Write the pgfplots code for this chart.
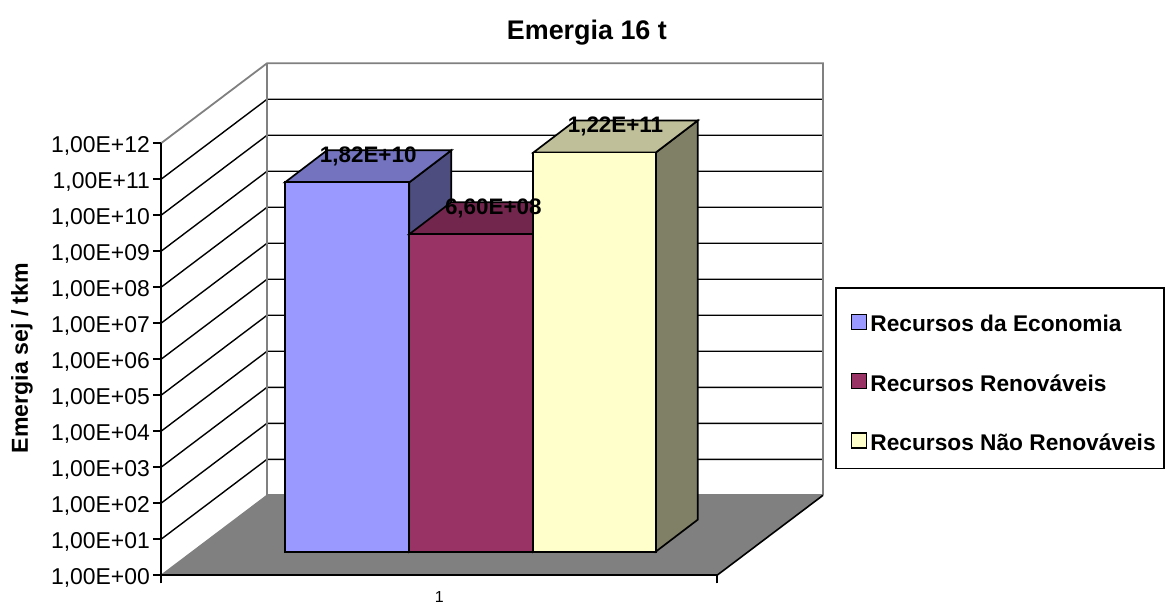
\documentclass[border=0pt]{standalone}
\usepackage{pgfplots}
\usepackage{fontspec}
\setmainfont{Liberation Sans}
\pgfplotsset{compat=1.18}
\definecolor{cA}{HTML}{9999FF}\definecolor{cAt}{HTML}{7373BF}\definecolor{cAs}{HTML}{4D4D80}
\definecolor{cB}{HTML}{993366}\definecolor{cBt}{HTML}{73264D}\definecolor{cBs}{HTML}{4D1A33}
\definecolor{cC}{HTML}{FFFFCC}\definecolor{cCt}{HTML}{BFBF99}\definecolor{cCs}{HTML}{808066}
\definecolor{wall}{HTML}{808080}
\newcommand{\lbl}{\fontsize{22.5}{27}\selectfont}
\begin{document}
\begin{tikzpicture}[line join=miter]
\useasboundingbox (-161bp,-28.7bp) rectangle (1007bp,575.3bp);
\begin{axis}[
  scale only axis, width=556bp, height=432bp,
  xmin=161, xmax=717, ymode=log, ymin=1, ymax=1e12,
  clip=false, axis on top=true,
  axis x line=bottom, axis y line=left,
  axis line style={-, black, line width=1.8bp},
  tick style={black, line width=1.6bp},
  tick align=outside, major tick length=8bp,
  yminorticks=false,
  ytick={1,1e1,1e2,1e3,1e4,1e5,1e6,1e7,1e8,1e9,1e10,1e11,1e12},
  yticklabels={{1,00E+00},{1,00E+01},{1,00E+02},{1,00E+03},{1,00E+04},{1,00E+05},{1,00E+06},{1,00E+07},{1,00E+08},{1,00E+09},{1,00E+10},{1,00E+11},{1,00E+12}},
  yticklabel style={font=\fontsize{23}{27}\selectfont, inner sep=0pt, xshift=-3bp, yshift=-3bp},
  xtick={161,717}, xticklabels={,},
  extra x ticks={439.3}, extra x tick labels={1},
  extra x tick style={major tick length=0pt, xticklabel style={font=\fontsize{16}{18}\selectfont, yshift=-13bp}},
  title={\textbf{Emergia 16 t}},
  title style={at={(0.766,1.243)}, anchor=center, font=\fontsize{27}{30}\selectfont},
  ylabel={\textbf{Emergia sej / tkm}},
  ylabel style={at={(-0.25,0.503)}, anchor=center, font=\fontsize{23.2}{27}\selectfont},
  legend cell align=left,
  legend image code/.code={\path (-10bp,0bp) (0bp,29.5bp); \draw[#1, line width=1.6bp] (0bp,2.5bp) rectangle (15bp,17.5bp);},
  legend style={at={(1.2122,0.6667)}, anchor=north west, draw=black, line width=1.6bp,
    inner xsep=5bp, inner ysep=13.5bp, font=\bfseries\fontsize{22.8}{27}\selectfont, row sep=24.5bp,
    /tikz/column 2/.style={column sep=0pt},
    nodes={inner sep=3bp, anchor=base west}},
]
% floor
\addplot[forget plot, fill=wall, draw=none] coordinates {(161,1)(717,1)(823,166.8)(267,166.8)} -- cycle;
% wall grid lines
\addplot[forget plot, black, line width=1.4bp] coordinates {(161,1e1)(267,1.668e3)(823,1.668e3)};
\addplot[forget plot, black, line width=1.4bp] coordinates {(161,1e2)(267,1.668e4)(823,1.668e4)};
\addplot[forget plot, black, line width=1.4bp] coordinates {(161,1e3)(267,1.668e5)(823,1.668e5)};
\addplot[forget plot, black, line width=1.4bp] coordinates {(161,1e4)(267,1.668e6)(823,1.668e6)};
\addplot[forget plot, black, line width=1.4bp] coordinates {(161,1e5)(267,1.668e7)(823,1.668e7)};
\addplot[forget plot, black, line width=1.4bp] coordinates {(161,1e6)(267,1.668e8)(823,1.668e8)};
\addplot[forget plot, black, line width=1.4bp] coordinates {(161,1e7)(267,1.668e9)(823,1.668e9)};
\addplot[forget plot, black, line width=1.4bp] coordinates {(161,1e8)(267,1.668e10)(823,1.668e10)};
\addplot[forget plot, black, line width=1.4bp] coordinates {(161,1e9)(267,1.668e11)(823,1.668e11)};
\addplot[forget plot, black, line width=1.4bp] coordinates {(161,1e10)(267,1.668e12)(823,1.668e12)};
\addplot[forget plot, black, line width=1.4bp] coordinates {(161,1e11)(267,1.668e13)(823,1.668e13)};
% wall outlines
\addplot[forget plot, wall, line width=1.8bp] coordinates {(161,1e12)(267,1.668e14)(823,1.668e14)(823,166.8)};
\addplot[forget plot, wall, line width=1.8bp] coordinates {(267,1.668e14)(267,166.8)(823,166.8)};
\addplot[forget plot, wall, line width=1.2bp] coordinates {(161,1)(267,166.8)};
\addplot[forget plot, black, line width=1.6bp] coordinates {(717,1)(823,166.8)};
% bars: true values, raised onto the floor by yshift
\addplot[forget plot, yshift=23.6bp, fill=cAs, draw=black, line width=1.7bp] coordinates {(409.3,1)(451.3,7.74)(451.3,1.409e11)(409.3,1.82e10)} -- cycle;
\addplot[forget plot, yshift=23.6bp, fill=cAt, draw=black, line width=1.7bp] coordinates {(285,1.82e10)(409.3,1.82e10)(451.3,1.409e11)(327,1.409e11)} -- cycle;
\addplot[forget plot, yshift=23.6bp, fill=cA, draw=black, line width=1.7bp] coordinates {(285,1)(285,1.82e10)(409.3,1.82e10)(409.3,1)} -- cycle;
\addplot[forget plot, yshift=23.6bp, fill=cBs, draw=black, line width=1.7bp] coordinates {(533.3,1)(575.3,7.74)(575.3,5.11e9)(533.3,6.6e8)} -- cycle;
\addplot[forget plot, yshift=23.6bp, fill=cBt, draw=black, line width=1.7bp] coordinates {(409.3,6.6e8)(533.3,6.6e8)(575.3,5.11e9)(451.3,5.11e9)} -- cycle;
\addplot[forget plot, yshift=23.6bp, fill=cB, draw=black, line width=1.7bp] coordinates {(409.3,1)(409.3,6.6e8)(533.3,6.6e8)(533.3,1)} -- cycle;
\addplot[forget plot, yshift=23.6bp, fill=cCs, draw=black, line width=1.7bp] coordinates {(655.7,1)(697.7,7.74)(697.7,9.44e11)(655.7,1.22e11)} -- cycle;
\addplot[forget plot, yshift=23.6bp, fill=cCt, draw=black, line width=1.7bp] coordinates {(533.3,1.22e11)(655.7,1.22e11)(697.7,9.44e11)(575.3,9.44e11)} -- cycle;
\addplot[forget plot, yshift=23.6bp, fill=cC, draw=black, line width=1.7bp] coordinates {(533.3,1)(533.3,1.22e11)(655.7,1.22e11)(655.7,1)} -- cycle;
% data labels
\addplot[forget plot, only marks, mark=none, point meta=explicit symbolic,
  nodes near coords, nodes near coords style={anchor=center, xshift=21bp, yshift=49.5bp, font=\bfseries\lbl, text=black}]
  table[x=x, y=y, meta=l] {
x y l
347.2 1.82e10 1,82E+10
472.3 6.6e8 6,60E+08
594.5 1.22e11 1,22E+11
};
\addlegendimage{draw=black, fill=cA}
\addlegendentry{Recursos da Economia}
\addlegendimage{draw=black, fill=cB}
\addlegendentry{Recursos Renováveis}
\addlegendimage{draw=black, fill=cC}
\addlegendentry{Recursos Não Renováveis}
\end{axis}
\end{tikzpicture}
\end{document}
